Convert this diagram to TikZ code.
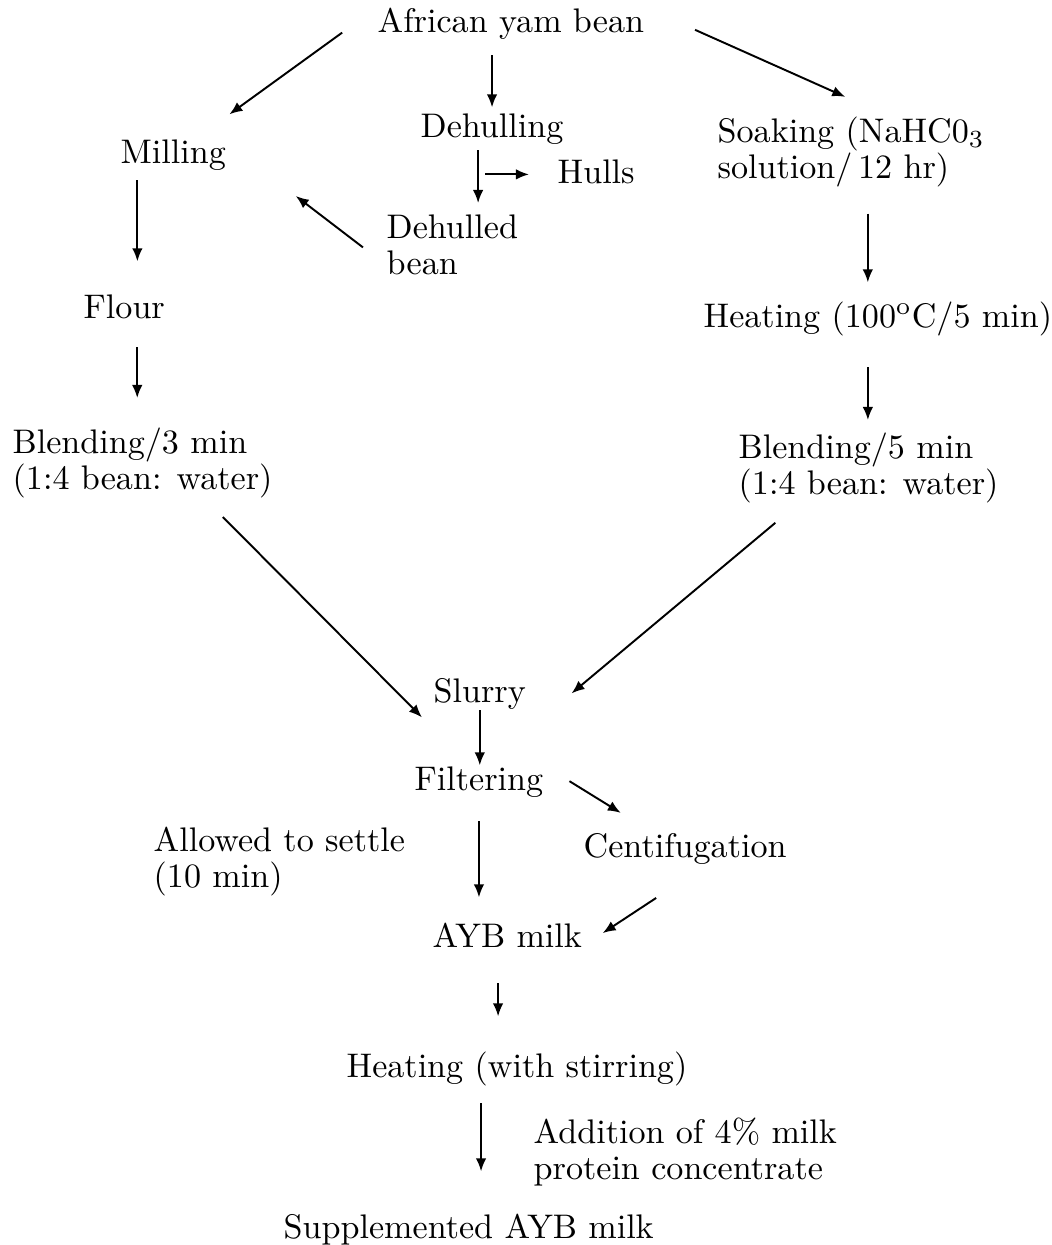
\documentclass[tikz,border=0pt]{standalone}
\usepackage{amsmath}
\usepackage{tikz}
\usetikzlibrary{arrows.meta}

\begin{document}
\begin{tikzpicture}[x=0.01cm, y=-0.01cm,
        font=\fontsize{9.7}{10.24}\selectfont,
        lbl/.style={inner sep=0pt, anchor=base west, text height=6.8pt, text depth=1.9pt},
        lbls/.style={inner sep=0pt, anchor=north west, align=left},
        arr/.style={line width=0.55pt, -{Latex[length=0.13cm, width=0.105cm]}}]
        \useasboundingbox (0,0) rectangle (1052,1245);

        % Top of the chart.
        \node[lbl] (afr) at (377,32) {African yam bean};
        \node[lbl] (mill) at (120,163) {Milling};
        \node[lbl] (dehull) at (420,137) {Dehulling};
        \node[lbl] (hulls) at (557,183) {Hulls};
        \node[lbls] (dbean) at (386,214) {Dehulled\\bean};
        \node[lbls] (soak) at (717,116) {Soaking (NaHC0$_3$\\solution/\,12 hr)};

        % Left and right branches.
        \node[lbl] (flour) at (83,318) {Flour};
        \node[lbls] (blend3) at (12,427) {Blending/3 min\\(1:4 bean: water)};
        \node[lbl] (heat1) at (703,327) {Heating (100$^{\mathrm{o}}$C/5 min)};
        \node[lbls] (blend5) at (738,432) {Blending/5 min\\(1:4 bean: water)};

        % Milk.
        \node[lbl] (slurry) at (433,702) {Slurry};
        \node[lbl] (filt) at (414,790) {Filtering};
        \node[lbls] (settle) at (153,826) {Allowed to settle\\(10 min)};
        \node[lbl] (centi) at (583,857) {Centifugation};
        \node[lbl] (aybm) at (432,947) {AYB milk};
        \node[lbl] (heat2) at (346,1077) {Heating (with stirring)};
        \node[lbls] (addn) at (533,1117) {Addition of 4\% milk\\protein concentrate};
        \node[lbl] (supp) at (283,1238) {Supplemented AYB milk};

        % Arrows.
        \draw[arr, shorten <=0.43cm, shorten >=0.41cm] (afr.north west) -- (mill.35);
        \draw[arr, shorten <=0.16cm, shorten >=0.05cm] (afr.south -| dehull.north) -- (dehull.north);
        \draw[arr, shorten <=0.55cm, shorten >=0.47cm] (afr.north east) -- (soak.44);
        \draw[arr, shorten <=0.06cm, shorten >=0.11cm] (dehull.229) -- (dehull.229 |- dbean.north);
        \draw[arr, shorten <=0.07cm, shorten >=0.28cm] (dehull.229 |- hulls.west) -- (hulls.west);
        \draw[arr, shorten <=0.29cm, shorten >=0.87cm] (dbean.197) -- (mill.12);
        \draw[arr, shorten <=0.10cm, shorten >=0.32cm] (mill.204) -- (mill.204 |- flour.north);
        \draw[arr, shorten <=0.22cm, shorten >=0.29cm] (flour.309) -- (flour.309 |- blend3.north);
        \draw[arr, shorten <=0.26cm, shorten >=0.20cm] (soak.295) -- (soak.295 |- heat1.north);
        \draw[arr, shorten <=0.33cm, shorten >=0.12cm] (heat1.238) -- (heat1.238 |- blend5.north);
        \draw[arr, shorten <=0.26cm] (blend3.330) -- ([shift={(-11,8)}]slurry.south west);
        \draw[arr, shorten <=0.30cm] (blend5.207) -- ([shift={(45,0)}]slurry.east);
        \draw[arr, shorten <=0.01cm] (slurry.south) -- (slurry.south |- filt.north);
        \draw[arr, shorten <=0.30cm, shorten >=0.37cm] (filt.north east) -- (centi.154);
        \draw[arr, shorten <=0.24cm, shorten >=0.25cm] (filt.south) -- (filt.south |- aybm.north);
        \draw[arr, shorten <=0.61cm, shorten >=0.24cm] (centi.324) -- (aybm.354);
        \draw[arr, shorten <=0.29cm, shorten >=0.36cm] (aybm.240) -- (aybm.240 |- heat2.north);
        \draw[arr, shorten <=0.19cm, shorten >=0.42cm] (heat2.204) -- (heat2.204 |- supp.north);

    \end{tikzpicture}
\end{document}
